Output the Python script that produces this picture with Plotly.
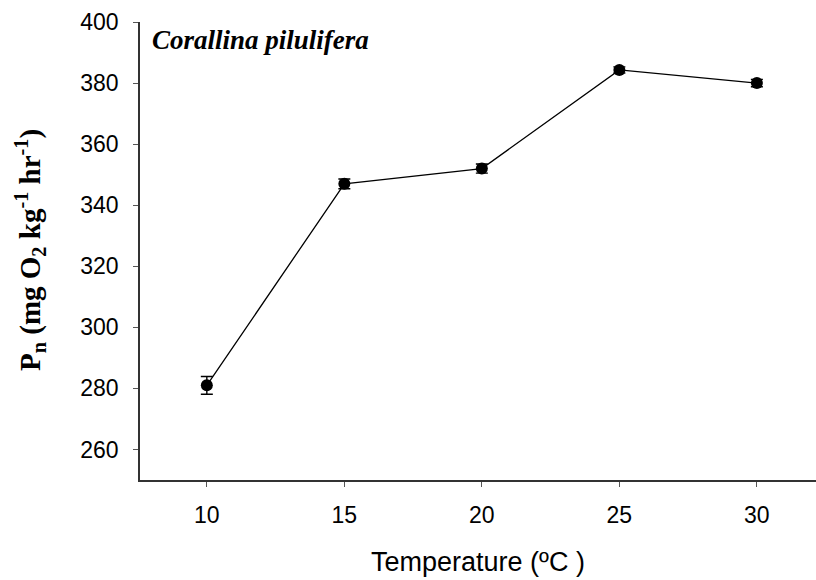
import plotly.graph_objects as go

# Net photosynthesis of Corallina pilulifera across temperatures
temperature = [10, 15, 20, 25, 30]
pn_mean = [281, 347, 352, 384.3, 380]
pn_err = [2.9, 1.6, 1.5, 1.0, 1.2]

x_ticks = [10, 15, 20, 25, 30]
y_ticks = [260, 280, 300, 320, 340, 360, 380, 400]

fig = go.Figure()
fig.add_trace(go.Scatter(
    x=temperature, y=pn_mean,
    mode="lines+markers",
    line=dict(color="black", width=1.3),
    marker=dict(color="black", size=12, symbol="circle"),
    error_y=dict(type="data", array=pn_err, visible=True,
                 color="black", thickness=1.4, width=6),
    showlegend=False,
))

axis_common = dict(
    showgrid=False, zeroline=False, showline=True,
    linecolor="#333333", linewidth=1.5,
    ticks="outside", ticklen=5, tickwidth=1.2, tickcolor="#555555",
    tickfont=dict(family="Liberation Sans, Arial", size=23, color="black"),
)

fig.update_xaxes(range=[7.57, 32.15], tickvals=x_ticks, ticklabelstandoff=9,
                 **axis_common,
                 title=dict(text="Temperature (ºC )",
                            font=dict(family="Liberation Sans, Arial", size=27, color="black"),
                            standoff=25))
fig.update_yaxes(range=[250, 400], tickvals=y_ticks, ticklabelstandoff=10,
                 **axis_common)

fig.add_annotation(
    text="<b>P<sub>n</sub> (mg O<sub>2</sub> kg<sup>-1</sup> hr<sup>-1</sup>)</b>",
    xref="paper", yref="paper", x=(30 - 140) / 676, y=1 - (250 - 22) / 458,
    xanchor="center", yanchor="middle", textangle=-90, showarrow=False,
    font=dict(family="Liberation Serif, Times New Roman", size=29, color="black"),
)
fig.add_annotation(
    text="<b><i>Corallina pilulifera</i></b>",
    xref="paper", yref="paper", x=(150 - 140) / 676, y=1 - (40 - 22) / 458,
    xanchor="left", yanchor="middle", showarrow=False,
    font=dict(family="Liberation Serif, Times New Roman", size=27, color="black"),
)

fig.update_layout(
    width=816, height=580,
    margin=dict(l=140, r=0, t=22, b=100),
    plot_bgcolor="white", paper_bgcolor="white",
)

fig.write_html("out.html")
